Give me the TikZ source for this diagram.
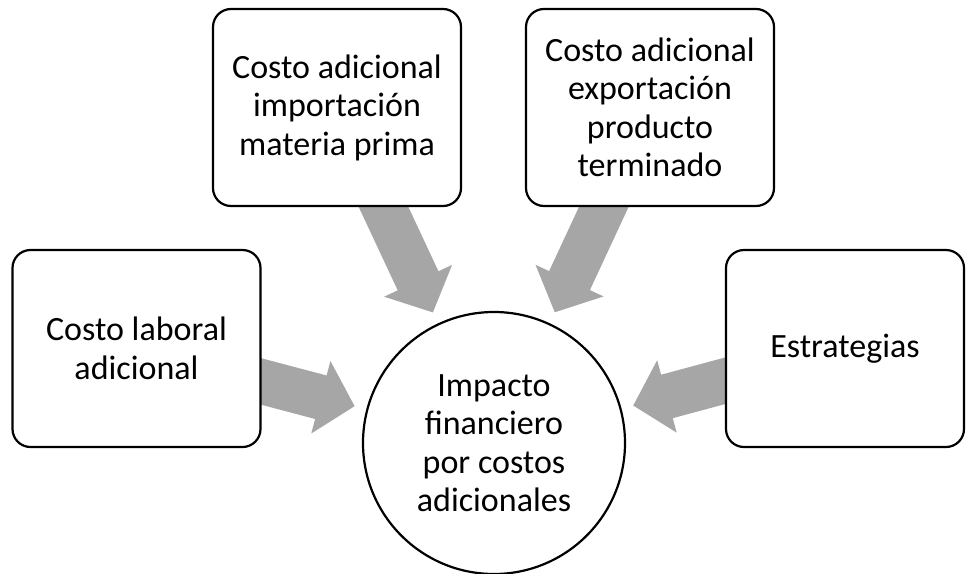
\documentclass[tikz,border=0pt]{standalone}
\usepackage{fontspec}
\setmainfont{Carlito}
\usetikzlibrary{arrows.meta}
\definecolor{arrow-gray}{gray}{0.65}
\pgfdeclarelayer{bg}
\pgfsetlayers{bg,main}

\begin{document}
\begin{tikzpicture}[x=1pt,y=-1pt,font=\fontsize{34}{38.5}\selectfont]
	\tikzset{
		box/.style={draw=black,line width=2.2pt,rounded corners=18pt,fill=white,minimum width=248pt,minimum height=197pt,align=center,inner sep=0pt},
		hub/.style={draw=black,line width=2.2pt,circle,fill=white,minimum size=262pt,align=center,inner sep=0pt},
		flow/.style={draw=arrow-gray,line width=45pt,shorten >=12pt,-{Triangle[length=35pt,width=73pt]}}
	}
	\useasboundingbox (0,0) rectangle (966,573);							% page frame
	\node[hub] (impacto) at (494,443) {Impacto\\financiero\\por costos\\adicionales};		% centre
	\node[box] (laboral) at (136.5,348.5) {Costo laboral\\adicional};				% left
	\node[box] (importacion) at (337,107.5) {Costo adicional\\importación\\materia prima};	% top left
	\node[box] (exportacion) at (650,107.5) {Costo adicional\\exportación\\producto\\terminado};	% top right
	\node[box,minimum width=238pt] (estrategias) at (845,348.5) {Estrategias};		% right
	\begin{pgfonlayer}{bg}
		\foreach \src in {laboral,importacion,exportacion,estrategias}{			% block arrows
			\draw [flow] (\src.center) -- (impacto);
		}
	\end{pgfonlayer}
\end{tikzpicture}
\end{document}
